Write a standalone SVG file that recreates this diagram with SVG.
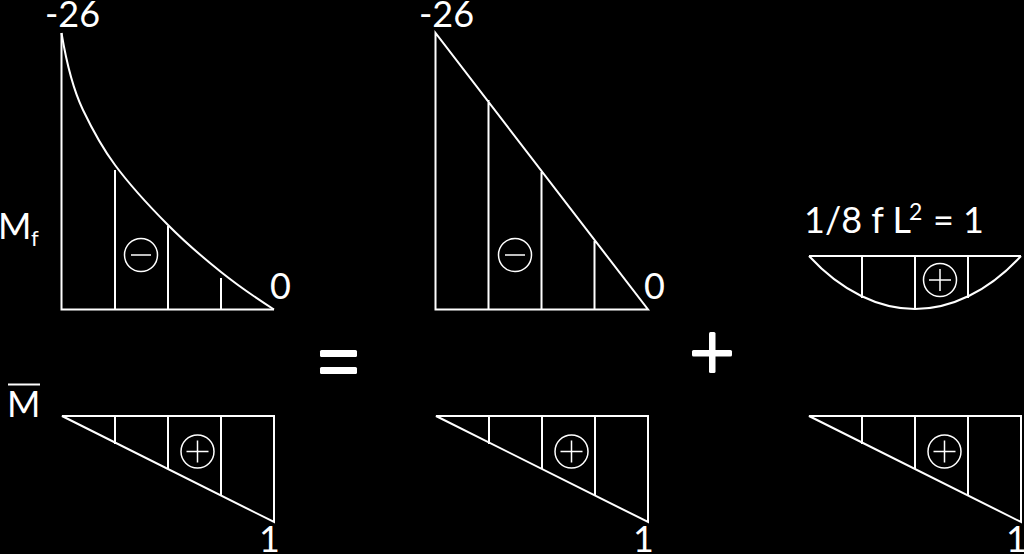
<svg xmlns="http://www.w3.org/2000/svg" width="1024" height="554" viewBox="0 0 1024 554">
<style>
.l{fill:none;stroke:#fff;stroke-width:2;stroke-linejoin:miter;stroke-linecap:butt}
.s{fill:none;stroke:#fff;stroke-width:1.5}
.t{fill:#fff;font-family:"Lato","Open Sans",sans-serif;font-size:36px}
.sb{fill:#fff;stroke:none}
</style>
<defs>
<g id="minus"><circle r="16.5" class="s"/><path d="M-10 0H10" class="s"/></g>
<g id="plus"><circle r="16.5" class="s"/><path d="M-11 0H11M0-11V11" class="s"/></g>
<g id="bar"><path class="l" d="M1 0H213V106ZM54 0V28M107 0V53M160 0V79"/><use href="#plus" x="136.500" y="35.500"/></g>
</defs>
<rect width="1024" height="554" fill="#000"/>
<g id="connectors"></g>
<g id="moment-curve">
<path class="l" d="M61.500 33V309.500H274"/>
<path class="l" d="M61.500 33C68.700 76 75.800 95 83 110C93.700 132.400 104.300 150.600 115 165C132.700 188.900 150.300 207.200 168 225C185.700 242.900 203.300 257.800 221 272C238.500 286 256 298 274 309.500"/>
<path class="l" d="M115 170V309.500M168 226V309.500M221 278V309.500"/>
<use href="#minus" x="141" y="255"/>
<text class="t" x="45" y="26.500">-26</text>
<text class="t" x="-2" y="239">M</text><text class="t" x="31" y="246" style="font-size:22px">f</text>
<text class="t" x="270" y="299">0</text>
</g>
<g id="moment-triangle">
<path class="l" d="M435.500 33V309.500H648ZM488.500 100V309.500M541.500 172V309.500M594.500 241V309.500"/>
<use href="#minus" x="515" y="255"/>
<text class="t" x="419" y="26.500">-26</text>
<text class="t" x="644" y="299">0</text>
</g>
<g id="moment-parabola">
<path class="l" d="M809 256H1021M809 256C842 292 880 309 915 309C950 309 988 292 1021 256M862 256V298M915 256V309M968 256V298"/>
<use href="#plus" x="940" y="280"/>
<text class="t" x="804" y="233">1/8 f L</text><text class="t" x="909" y="220" style="font-size:23px">2</text><text class="t" x="933" y="233">= 1</text>
</g>
<g id="unit-1"><use href="#bar" x="61" y="416"/><text class="t" x="259" y="552">1</text>
<text class="t" x="7" y="417">M</text><path d="M8 384.500H40" class="l"/></g>
<g id="unit-2"><use href="#bar" x="435" y="416"/><text class="t" x="633" y="552">1</text></g>
<g id="unit-3"><use href="#bar" x="808" y="416"/><text class="t" x="1006" y="552">1</text></g>
<g id="equals"><rect class="sb" x="320" y="350" width="37" height="7" rx="1.500"/><rect class="sb" x="320" y="367" width="37" height="7" rx="1.500"/></g>
<g id="plus-sign"><rect class="sb" x="692" y="350" width="40" height="6.500" rx="1.500"/><rect class="sb" x="709" y="332" width="6.500" height="41" rx="1.500"/></g>
</svg>
